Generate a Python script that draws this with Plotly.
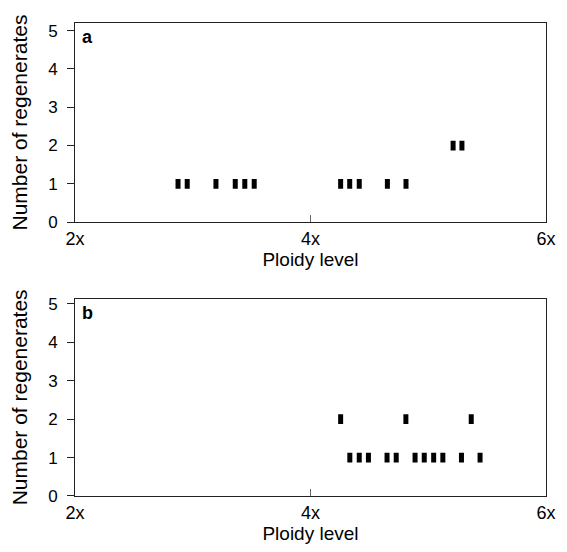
import plotly.graph_objects as go

# Panel a data
a_x = [2.875, 2.953, 3.197, 3.361, 3.442, 3.522, 4.256, 4.333, 4.414, 4.653, 4.811, 5.211, 5.286]
a_y = [1, 1, 1, 1, 1, 1, 1, 1, 1, 1, 1, 2, 2]
# Panel b data
b_x = [4.256, 4.810, 5.365, 4.334, 4.414, 4.492, 4.650, 4.728, 4.888, 4.966, 5.046, 5.124, 5.282, 5.440]
b_y = [2, 2, 2, 1, 1, 1, 1, 1, 1, 1, 1, 1, 1, 1]

x_tickvals = [2, 4, 6]
x_ticktext = ["2x", "4x", "6x"]
y_tickvals = [0, 1, 2, 3, 4, 5]
panel_labels = ["a", "b"]

FONT = "Liberation Sans, Arial, sans-serif"
marker = dict(symbol="line-ns", size=7, line=dict(width=5, color="black"), color="black")

fig = go.Figure()
fig.add_trace(go.Scatter(x=a_x, y=a_y, mode="markers", marker=marker, xaxis="x", yaxis="y", showlegend=False))
fig.add_trace(go.Scatter(x=b_x, y=b_y, mode="markers", marker=marker, xaxis="x2", yaxis="y2", showlegend=False))

axis_common = dict(showgrid=False, zeroline=False, showline=True, linecolor="#222", linewidth=1,
                   mirror=True)
xcommon = dict(axis_common, range=[2, 6], tickvals=x_tickvals, ticktext=x_ticktext,
               ticks="inside", ticklen=7, tickcolor="#666",
               tickfont=dict(size=18, family=FONT, color="black"),
               title=dict(text="Ploidy level", font=dict(size=19, family=FONT, color="black"), standoff=4))
ycommon = dict(axis_common, tickvals=y_tickvals, ticks="outside", ticklen=7, tickcolor="#222",
               ticklabelstandoff=6,
               tickfont=dict(size=17, family=FONT, color="black"),
               title=dict(text="Number of regenerates", font=dict(size=21, family=FONT, color="black"), standoff=14))
yover = dict(showgrid=False, zeroline=False, showline=False, showticklabels=False,
             tickvals=y_tickvals, ticks="inside", ticklen=7, tickcolor="#222")

fig.update_layout(
    width=559, height=544,
    margin=dict(l=66, r=11, t=13, b=56),
    plot_bgcolor="white", paper_bgcolor="white",
    xaxis=dict(xcommon, domain=[0, 1], anchor="y"),
    yaxis=dict(ycommon, domain=[0.579, 1], range=[0, 5.2], anchor="x"),
    xaxis2=dict(xcommon, domain=[0, 1], anchor="y2"),
    yaxis2=dict(ycommon, domain=[0, 0.417], range=[0, 5.13], anchor="x2"),
    yaxis3=dict(yover, overlaying="y", anchor="x", range=[0, 5.2]),
    yaxis4=dict(yover, overlaying="y2", anchor="x2", range=[0, 5.13]),
)

for lab, xr, yr in zip(panel_labels, ["x domain", "x2 domain"], ["y domain", "y2 domain"]):
    fig.add_annotation(text="<b>%s</b>" % lab, xref=xr, yref=yr, x=0.01, y=0.99,
                       xanchor="left", yanchor="top", showarrow=False,
                       font=dict(size=18, family=FONT, color="black"))

fig.write_html("out.html")
